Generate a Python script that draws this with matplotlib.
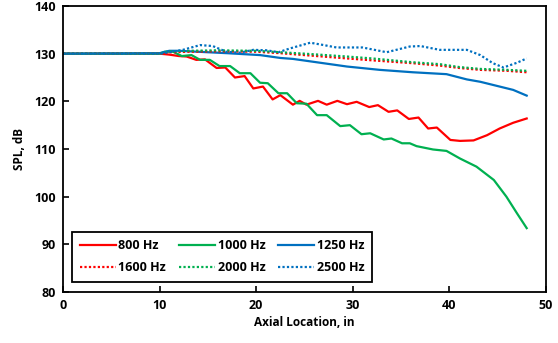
import matplotlib.pyplot as plt

plt.rcParams['font.family'] = ['Open Sans', 'DejaVu Sans']

# 800 Hz
x800 = [0, 10, 11, 12, 12.8, 13.8, 14.7, 15.9, 16.8, 17.8, 18.8, 19.7, 20.7, 21.7, 22.5,
        23.8, 24.5, 25.2, 26.4, 27.3, 28.4, 29.4, 30.4, 31.7, 32.6, 33.7, 34.6, 35.8,
        36.8, 37.8, 38.7, 40.1, 41.1, 42.5, 43.9, 45.2, 46.6, 48]
y800 = [130, 130, 129.8, 129.5, 129.4, 128.7, 128.8, 127.0, 127.1, 125.0, 125.3, 122.7,
        123.1, 120.4, 121.3, 119.3, 120.1, 119.3, 120.1, 119.3, 120.1, 119.4, 119.9,
        118.8, 119.2, 117.8, 118.1, 116.3, 116.6, 114.3, 114.5, 111.9, 111.7, 111.8,
        112.9, 114.3, 115.5, 116.4]

# 1000 Hz
x1000 = [0, 10, 10.5, 11.4, 12.3, 13.3, 14.2, 15.2, 16.2, 17.3, 18.3, 19.4, 20.4, 21.2,
         22.3, 23.2, 24.2, 25.2, 26.3, 27.3, 28.7, 29.7, 30.9, 31.8, 33.2, 34.0, 35.1,
         35.9, 36.6, 38.3, 39.7, 41.1, 42.8, 44.6, 45.9, 47.0, 48]
y1000 = [130, 130, 130.4, 130.4, 129.5, 129.7, 128.7, 128.7, 127.4, 127.4, 125.9, 125.9,
         123.9, 123.8, 121.7, 121.7, 119.6, 119.5, 117.1, 117.1, 114.8, 115.0, 113.1,
         113.3, 112.0, 112.2, 111.2, 111.2, 110.6, 109.9, 109.6, 108.0, 106.3, 103.5,
         100.0, 96.5, 93.4]

# 1250 Hz
x1250 = [0, 10, 11, 12, 14, 17, 20.4, 22.5, 23.8, 25.9, 29.4, 32.8, 36.2, 39.7, 41.8,
         43.2, 45.2, 46.6, 48]
y1250 = [130, 130.1, 130.6, 130.6, 130.4, 130.1, 129.7, 129.1, 128.9, 128.3, 127.3,
         126.6, 126.1, 125.7, 124.6, 124.1, 123.1, 122.4, 121.2]

# 1600 / 2000 Hz
x_hi = [0, 10, 11, 13, 16, 20, 22.5, 25, 29.4, 32, 36.2, 39, 41, 43.2, 46, 48]
y1600 = [130, 130, 130.3, 130.4, 130.5, 130.4, 130.1, 129.7, 129.0, 128.6, 128.0, 127.5,
         127.0, 126.6, 126.4, 126.1]
y2000 = [130, 130, 130.5, 130.6, 130.7, 130.6, 130.3, 130.0, 129.4, 129.0, 128.2, 127.8,
         127.2, 126.8, 126.6, 126.4]

# 2500 Hz
x2500 = [0, 10, 11, 12.4, 14.2, 15.5, 16.9, 18.3, 19.7, 21.1, 22.3, 23.5, 25.6, 27, 28.3,
         31, 33.5, 35.9, 37, 39, 41.8, 43.2, 44.5, 45.6, 47, 48]
y2500 = [130, 130, 130.3, 130.8, 131.8, 131.6, 130.4, 130.2, 130.8, 130.7, 130.3, 131.1,
         132.3, 131.8, 131.3, 131.3, 130.3, 131.5, 131.6, 130.8, 130.8, 129.7, 128.0,
         127.1, 128.1, 129.0]

red = '#FF0000'
green = '#00B050'
blue = '#0070C0'
dot = (0, (1, 1))

fig = plt.figure(figsize=(5.58, 3.43), dpi=100)
ax = fig.add_axes([63 / 558, 1 - 292 / 343, 483 / 558, 286 / 343])

lw = 1.6
l1, = ax.plot(x800, y800, color=red, lw=lw, label='800 Hz')
l2, = ax.plot(x1000, y1000, color=green, lw=lw, label='1000 Hz')
l3, = ax.plot(x1250, y1250, color=blue, lw=lw, label='1250 Hz')
l4, = ax.plot(x_hi, y1600, color=red, lw=lw, ls=dot, label='1600 Hz')
l5, = ax.plot(x_hi, y2000, color=green, lw=lw, ls=dot, label='2000 Hz')
l6, = ax.plot(x2500, y2500, color=blue, lw=lw, ls=dot, label='2500 Hz')

ax.set_xlim(0, 50)
ax.set_ylim(80, 140)
ax.set_xticks(range(0, 51, 10))
ax.set_yticks(range(80, 141, 10))
ax.tick_params(direction='in', length=4, width=1.2, labelsize=9, pad=5)
for lab in ax.get_xticklabels() + ax.get_yticklabels():
    lab.set_fontweight('bold')
for s in ax.spines.values():
    s.set_linewidth(1.3)
    s.set_color('black')

ax.set_xlabel('Axial Location, in', fontsize=8.5, fontweight='bold', labelpad=3)
ax.set_ylabel('SPL, dB', fontsize=8.5, fontweight='bold', labelpad=6)

# legend fills column by column, so order handles to get rows 800/1000/1250, 1600/2000/2500
hs = [l1, l4, l2, l5, l3, l6]
leg = ax.legend(hs, [h.get_label() for h in hs], ncol=3, loc='lower left',
                bbox_to_anchor=(0.019, 0.035, 0.621, 0.175),
                mode='expand', fancybox=False, edgecolor='black', framealpha=1,
                prop={'weight': 'bold', 'size': 9}, handlelength=2.9, handletextpad=0.2,
                borderaxespad=0, borderpad=0.6, columnspacing=1.0, labelspacing=0.75)
leg.get_frame().set_linewidth(1.3)

fig.savefig('out.png', dpi=100)
